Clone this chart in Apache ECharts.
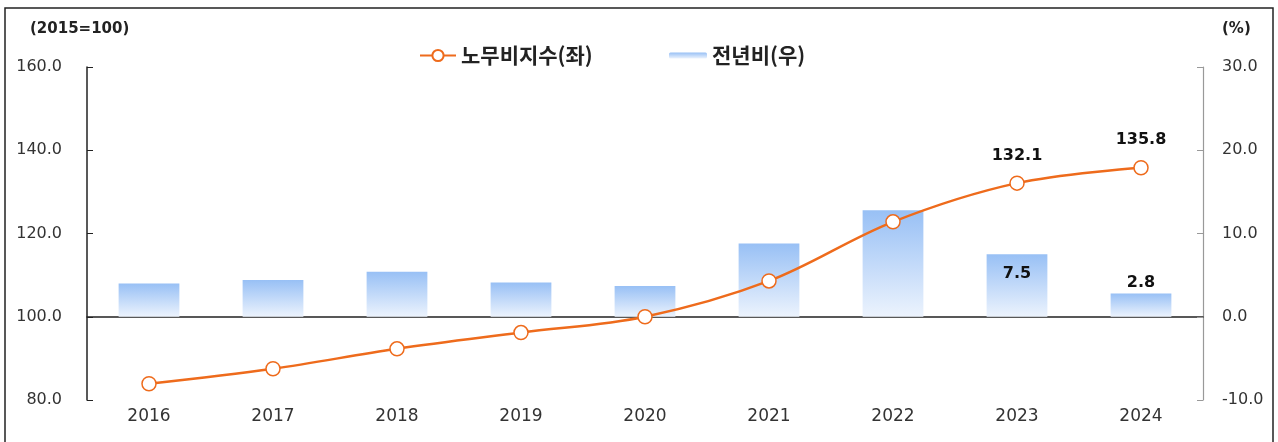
<!DOCTYPE html>
<html>
  <head>
    <meta charset="UTF-8" />
    <title>노무비지수</title>
    <script src="https://cdn.jsdelivr.net/npm/echarts@6/dist/echarts.min.js"></script>
    <style>
      html,
      body {
        margin: 0;
        padding: 0;
        background: #fff;
      }
      #main {
        width: 1278px;
        height: 442px;
      }
    </style>
  </head>
  <body>
    <div id="main"></div>
    <script>
      // 데이터
      var years = ["2016", "2017", "2018", "2019", "2020", "2021", "2022", "2023", "2024"];
      var laborIndex = [83.9, 87.5, 92.3, 96.2, 100.0, 108.6, 122.8, 132.1, 135.8];
      var yoyRate = [4.0, 4.4, 5.4, 4.1, 3.7, 8.8, 12.8, 7.5, 2.8];
      var leftTicks = [80, 160, 20];
      var rightTicks = [-10, 30, 10];
      // 라벨 표시할 연도
      var labelYears = ["2023", "2024"];

      var font = "'Noto Sans CJK KR', 'Noto Sans', sans-serif";
      var numFont = "'DejaVu Sans', Verdana, sans-serif";
      var myChart = echarts.init(document.getElementById("main"));

      var lineData = laborIndex.map(function (v, i) {
        return {
          value: v,
          label: { show: labelYears.indexOf(years[i]) >= 0 },
        };
      });
      var barData = yoyRate.map(function (v, i) {
        var item = { value: v, label: { show: labelYears.indexOf(years[i]) >= 0 } };
        if (years[i] == "2023") {
          item.label.position = "insideTop";
          item.label.distance = 12;
        }
        return item;
      });

      function fmt1(v) {
        return Number(v).toFixed(1);
      }

      var option = {
        animation: false,
        textStyle: { fontFamily: font },
        graphic: [
          {
            type: "rect",
            shape: { x: 5, y: 8, width: 1268, height: 450 },
            style: { fill: "none", stroke: "#222", lineWidth: 1.5 },
          },
          {
            type: "text",
            left: 30,
            top: 22,
            style: { text: "(2015=100)", font: "bold 15px " + numFont, fill: "#222" },
          },
          {
            type: "text",
            left: 1222,
            top: 22,
            style: { text: "(%)", font: "bold 15px " + numFont, fill: "#222" },
          },
        ],
        legend: [
          {
            data: ["노무비지수(좌)"],
            left: 414,
            top: 40,
            itemWidth: 36,
            itemHeight: 14,
            itemGap: 6,
            textStyle: { fontSize: 21, fontWeight: "bold", color: "#222", fontFamily: font },
          },
          {
            data: ["전년비(우)"],
            left: 664,
            top: 40,
            itemWidth: 38,
            itemHeight: 6,
            textStyle: { fontSize: 21, fontWeight: "bold", color: "#222", fontFamily: font },
          },
        ],
        grid: { left: 87, right: 75, top: 67, bottom: 42 },
        xAxis: [
          {
            // 0선 (우축 0)
            type: "category",
            data: years,
            axisLine: {
              onZero: true,
              onZeroAxisIndex: 1,
              lineStyle: { color: "#222", width: 1.5 },
            },
            axisTick: { inside: true, length: 6, lineStyle: { color: "#222" } },
            axisLabel: { show: false },
          },
          {
            // 하단 라벨
            type: "category",
            data: years,
            position: "bottom",
            axisLine: { show: false },
            axisTick: { show: false },
            axisLabel: { fontSize: 17, color: "#333", margin: 8, fontFamily: numFont },
          },
        ],
        yAxis: [
          {
            type: "value",
            min: leftTicks[0],
            max: leftTicks[1],
            interval: leftTicks[2],
            axisLine: { show: true, lineStyle: { color: "#222", width: 1.5 } },
            axisTick: { show: true, inside: true, length: 6, lineStyle: { color: "#222" } },
            axisLabel: {
              fontSize: 16,
              color: "#333",
              margin: 25,
              fontFamily: numFont,
              formatter: fmt1,
            },
            splitLine: { show: false },
          },
          {
            type: "value",
            min: rightTicks[0],
            max: rightTicks[1],
            interval: rightTicks[2],
            axisLine: { show: true, lineStyle: { color: "#999", width: 1.2 } },
            axisTick: { show: true, inside: true, length: 6, lineStyle: { color: "#999" } },
            axisLabel: {
              fontSize: 16,
              color: "#333",
              margin: 19,
              fontFamily: numFont,
              formatter: fmt1,
            },
            splitLine: { show: false },
          },
        ],
        series: [
          {
            name: "전년비(우)",
            type: "bar",
            xAxisIndex: 0,
            yAxisIndex: 1,
            barWidth: "49%",
            data: barData,
            itemStyle: {
              color: new echarts.graphic.LinearGradient(0, 0, 0, 1, [
                { offset: 0, color: "#98c0f5" },
                { offset: 1, color: "#ecf3fd" },
              ]),
            },
            label: {
              position: "top",
              distance: 3,
              fontSize: 16,
              fontWeight: "bold",
              color: "#111",
              fontFamily: numFont,
              formatter: function (p) {
                return fmt1(p.value);
              },
            },
            z: 1,
          },
          {
            name: "노무비지수(좌)",
            type: "line",
            xAxisIndex: 0,
            yAxisIndex: 0,
            smooth: 0.35,
            data: lineData,
            symbol: "circle",
            symbolSize: 14,
            lineStyle: { color: "#ee6b1c", width: 2.5 },
            itemStyle: { color: "#fff", borderColor: "#ee6b1c", borderWidth: 1.5 },
            label: {
              position: "top",
              distance: 12,
              fontSize: 16,
              fontWeight: "bold",
              color: "#111",
              fontFamily: numFont,
              formatter: function (p) {
                return fmt1(p.value);
              },
            },
            z: 3,
          },
        ],
      };
      myChart.setOption(option);
    </script>
  </body>
</html>
